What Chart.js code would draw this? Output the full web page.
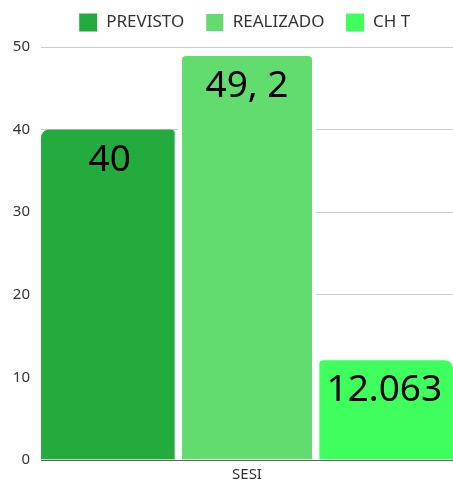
<!DOCTYPE html>
<html lang="pt">
<head>
  <meta charset="UTF-8">
  <title>SESI - Previsto x Realizado</title>
  <script src="https://cdn.jsdelivr.net/npm/chart.js"></script>
  <style>
    html, body { margin: 0; padding: 0; background: #fff; }
    .wrap { width: 453px; height: 482px; }
  </style>
</head>
<body>
  <div class="wrap"><canvas id="chart"></canvas></div>
  <script>
    const categories = ['SESI'];
    const seriesNames = ['PREVISTO', 'REALIZADO', 'CH T'];
    const previsto = [40];
    const realizado = [48.9];
    const chT = [12.063];
    // textos exibidos dentro das barras
    const valueLabels = ['40', '49, 2', '12.063'];
    const yTicks = [0, 10, 20, 30, 40, 50];

    const colors = ['#23ab3d', '#63dc6f', '#3fff5f'];
    const FONT = "'Noto Sans', sans-serif";

    // desenha o valor no topo de cada barra
    const barLabels = {
      id: 'barLabels',
      afterDatasetsDraw(chart) {
        const ctx = chart.ctx;
        ctx.save();
        ctx.font = '37px ' + FONT;
        ctx.fillStyle = '#000';
        ctx.textAlign = 'center';
        ctx.textBaseline = 'alphabetic';
        chart.data.datasets.forEach((ds, i) => {
          const meta = chart.getDatasetMeta(i);
          meta.data.forEach(bar => {
            ctx.fillText(valueLabels[i], bar.x, bar.y + 41);
          });
        });
        ctx.restore();
      }
    };

    // legenda: altura fixa e deslocamento para ficar como no original
    const legendTweak = {
      id: 'legendTweak',
      afterInit(chart) {
        const lg = chart.legend;
        if (!lg || lg._patched) return;
        const fit = lg.fit;
        lg.fit = function () { fit.call(this); this.height = 47; };
        lg._patched = true;
      },
      afterLayout(chart) {
        const lg = chart.legend;
        lg.left += 18; lg.right += 18;
        lg.top -= 8; lg.bottom -= 8;
      }
    };

    new Chart(document.getElementById('chart'), {
      type: 'bar',
      data: {
        labels: categories,
        datasets: [
          { label: seriesNames[0], data: previsto, backgroundColor: colors[0], borderColor: '#fff', borderWidth: { right: 4 } },
          { label: seriesNames[1], data: realizado, backgroundColor: colors[1], borderColor: '#fff', borderWidth: { left: 4, right: 4 } },
          { label: seriesNames[2], data: chT, backgroundColor: colors[2], borderColor: '#fff', borderWidth: { left: 4 } }
        ]
      },
      options: {
        responsive: true,
        maintainAspectRatio: false,
        animation: false,
        layout: { padding: 0 },
        datasets: {
          bar: {
            barPercentage: 1,
            categoryPercentage: 1,
            borderRadius: { topLeft: 8, topRight: 8 },
            borderSkipped: false
          }
        },
        plugins: {
          legend: {
            labels: {
              boxWidth: 19,
              boxHeight: 19,
              padding: 21,
              color: '#333',
              font: { family: FONT, size: 17 }
            }
          },
          tooltip: { enabled: false }
        },
        scales: {
          x: {
            afterFit(axis) { axis.height = 22; },
            grid: { display: false, drawTicks: false },
            border: { color: '#666' },
            ticks: { color: '#333', padding: 6, font: { family: FONT, size: 15 } }
          },
          y: {
            min: 0,
            max: 50,
            afterFit(axis) { axis.width = 41; },
            afterBuildTicks(axis) { axis.ticks = yTicks.map(v => ({ value: v })); },
            grid: { color: '#ccc', drawTicks: false },
            border: { display: false },
            ticks: { color: '#333', padding: 11, font: { family: FONT, size: 15 } }
          }
        }
      },
      plugins: [barLabels, legendTweak]
    });
  </script>
</body>
</html>
